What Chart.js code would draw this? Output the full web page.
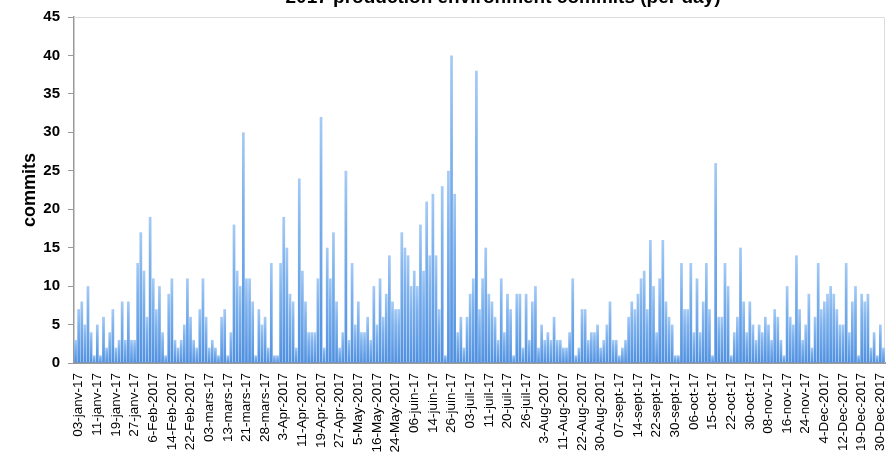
<!DOCTYPE html>
<html>
<head>
<meta charset="utf-8">
<script src="https://cdn.jsdelivr.net/npm/chart.js@4"></script>
<style>
  html, body { margin: 0; padding: 0; background: #ffffff; }
  #wrap { width: 893px; height: 452px; position: relative; overflow: hidden; }
</style>
</head>
<body>
<div id="wrap"><canvas id="c" width="893" height="452"></canvas></div>
<script>
const chartTitle = "2017 production environment commits (per day)";
const yAxisTitle = "commits";

// Tick labels shown every 6th working day
const tickLabels = [
  "03-janv-17","11-janv-17","19-janv-17","27-janv-17","6-Feb-2017","14-Feb-2017","22-Feb-2017",
  "03-mars-17","13-mars-17","21-mars-17","28-mars-17","3-Apr-2017","11-Apr-2017","19-Apr-2017",
  "27-Apr-2017","5-May-2017","16-May-2017","24-May-2017","06-juin-17","14-juin-17","26-juin-17",
  "03-juil-17","11-juil-17","20-juil-17","26-juil-17","3-Aug-2017","11-Aug-2017","22-Aug-2017",
  "30-Aug-2017","07-sept-17","14-sept-17","22-sept-17","30-sept-17","06-oct-17","15-oct-17",
  "22-oct-17","30-oct-17","08-nov-17","16-nov-17","24-nov-17","4-Dec-2017","12-Dec-2017",
  "19-Dec-2017","30-Dec-2017"
];

// Commits per day
const commitsJanMar = [3,7,8,5,10,4,1,5,1,6,2,4,7,2,3,8,3,8,3,3,13,17,12,6,19,11,7,10,4,1,
  9,11,3,2,3,5,11,6,3,2,7,11,6,2,3,2,1,6,7,1,4,18];
const commitsMarMay = [12,10,30,11,11,8,1,7,5,6,2,13,1,1,13,19,15,9,8,2,24,12,8,4,4,4,11,32,2,15,
  11,17,8,2,4,25,3,13,5,8,4,4,6,3,10,5,11,6,9,14,8,7];
const commitsMayAug = [7,17,15,14,10,12,10,18,12,21,14,22,14,7,23,1,25,40,22,4,6,2,6,9,11,38,
  7,11,15,9,8,6,3,11,4,9,7,1,9,9,2,9,3,8,10,2,5,3,4,3,6,3];
const commitsAugOct = [3,2,2,4,11,1,2,7,7,3,4,4,5,2,3,5,8,3,3,1,2,3,6,8,7,9,11,12,7,16,10,4,
  11,16,8,6,5,1,1,13,7,7,13,4,11,4,8,13,7,1,26,6,6,13];
const commitsOctDec = [10,1,4,6,15,8,4,8,5,3,5,4,6,5,3,7,6,3,1,10,6,5,14,7,3,5,9,2,6,13,7,8,9,
  10,9,7,5,5,13,4,8,10,1,9,8,9,2,4,1,5,2];

const yTicks = { min: 0, max: 45, step: 5 };

const values = [].concat(commitsJanMar, commitsMarMay, commitsMayAug, commitsAugOct, commitsOctDec);
const labelEvery = 6, labelOffset = 1;
const categories = values.map((v, i) =>
  ((i - labelOffset) % labelEvery === 0 && i >= labelOffset) ? (tickLabels[(i - labelOffset) / labelEvery] || "") : "");

const FONT = '"Liberation Sans", Arial, Helvetica, sans-serif';

const framePlugin = {
  id: 'frame',
  beforeDatasetsDraw(chart) {
    const { ctx, chartArea: a } = chart;
    ctx.save();
    ctx.strokeStyle = '#dcdcdc';
    ctx.lineWidth = 1;
    ctx.beginPath();
    ctx.moveTo(a.left, a.top + 0.5);
    ctx.lineTo(a.right - 0.5, a.top + 0.5);
    ctx.lineTo(a.right - 0.5, a.bottom);
    ctx.stroke();
    ctx.restore();
  },
  afterDraw(chart) {
    const { ctx } = chart;
    ctx.save();
    ctx.fillStyle = '#000';
    ctx.font = 'bold 19px ' + FONT;
    ctx.textAlign = 'center';
    ctx.textBaseline = 'alphabetic';
    ctx.fillText(chartTitle, 503, 3);
    ctx.restore();
  }
};

new Chart(document.getElementById('c'), {
  type: 'bar',
  data: {
    labels: categories,
    datasets: [{
      data: values,
      backgroundColor: (ctx) => {
        const chart = ctx.chart;
        if (!chart.chartArea || ctx.raw == null) return '#6aa4e6';
        const ys = chart.scales.y;
        const top = ys.getPixelForValue(ctx.raw);
        const bot = ys.getPixelForValue(0);
        if (bot - top < 1) return '#6aa4e6';
        const g = chart.ctx.createLinearGradient(0, top, 0, bot);
        g.addColorStop(0, '#a6cbf5');
        g.addColorStop(0.3, '#80b3ee');
        g.addColorStop(1, '#4f90e0');
        return g;
      },
      borderWidth: 0,
      barPercentage: 0.88,
      categoryPercentage: 1.0
    }]
  },
  options: {
    responsive: false,
    animation: false,
    devicePixelRatio: 1,
    layout: { padding: { left: 0, right: 8, top: 15, bottom: 0 } },
    plugins: { legend: { display: false }, tooltip: { enabled: false }, title: { display: false } },
    scales: {
      x: {
        grid: { display: false },
        border: { display: true, color: '#9a9a9a', width: 2 },
        ticks: {
          autoSkip: false, maxRotation: 90, minRotation: 90, padding: 2,
          color: '#000', font: { family: FONT, size: 13.5 }
        },
        afterFit(scale) { scale.height = 89; scale.paddingLeft = 0; scale.paddingRight = 0; }
      },
      y: {
        min: yTicks.min, max: yTicks.max,
        grid: { display: true, drawOnChartArea: false, drawTicks: true, tickLength: 6, color: '#9a9a9a' },
        border: { display: true, color: '#9a9a9a', width: 1.5 },
        ticks: { stepSize: yTicks.step, padding: 8, color: '#000', font: { family: FONT, size: 15, weight: 'bold' } },
        title: { display: true, text: yAxisTitle, color: '#000', font: { family: FONT, size: 18, weight: 'bold' }, padding: { top: 19, bottom: 0 } },
        afterFit(scale) { scale.width = 74; }
      }
    }
  },
  plugins: [framePlugin]
});
</script>
</body>
</html>
